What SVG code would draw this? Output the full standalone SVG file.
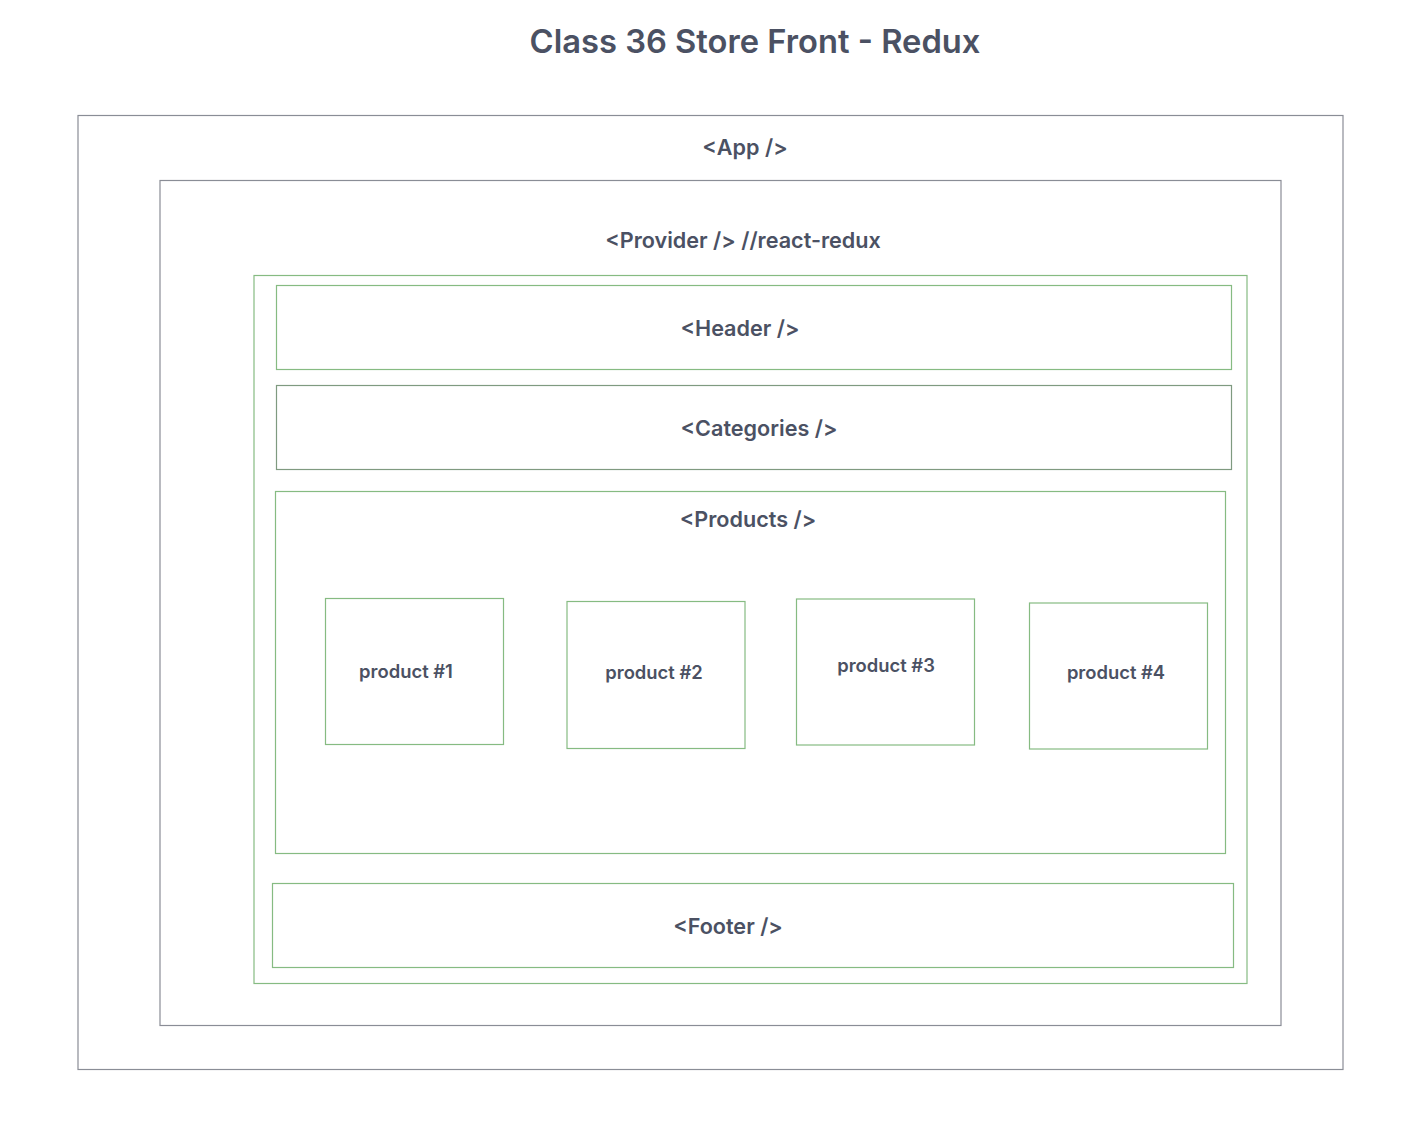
<svg xmlns="http://www.w3.org/2000/svg" width="1419" height="1131" viewBox="0 0 1419 1131">
<style>
.t{font-family:Inter,"Noto Sans","Liberation Sans",sans-serif;fill:#4b5163;text-anchor:middle;font-weight:600}
.title{font-size:32.7px}
.lbl{font-size:21.6px}
.prod{font-size:18.4px}
.gray{fill:none;stroke:#8a8d96;stroke-width:1.2}
.green{fill:none;stroke:#86bb82;stroke-width:1.2}
.dgreen{fill:none;stroke:#7f9a80;stroke-width:1.2}
</style>
<rect x="0" y="0" width="1419" height="1131" fill="#ffffff"/>
<text class="t title" x="755" y="53">Class 36 Store Front - Redux</text>
<g id="app">
<rect class="gray" x="78" y="115.5" width="1265" height="954"/>
<text class="t lbl" x="745" y="155">&lt;App /&gt;</text>
</g>
<g id="provider">
<rect class="gray" x="160" y="180.5" width="1121" height="845"/>
<text class="t lbl" x="743" y="248">&lt;Provider /&gt; //react-redux</text>
</g>
<g id="container">
<rect class="green" x="254" y="275.5" width="993" height="708"/>
</g>
<g id="header">
<rect class="green" x="276.5" y="285.5" width="955" height="84"/>
<text class="t lbl" x="740" y="336">&lt;Header /&gt;</text>
</g>
<g id="categories">
<rect class="dgreen" x="276.5" y="385.5" width="955" height="84"/>
<text class="t lbl" x="759" y="436">&lt;Categories /&gt;</text>
</g>
<g id="products">
<rect class="green" x="275.5" y="491.5" width="950" height="362"/>
<text class="t lbl" x="748" y="527">&lt;Products /&gt;</text>
</g>
<g id="product1">
<rect class="green" x="325.5" y="598.5" width="178" height="146"/>
<text class="t prod" x="406" y="678">product #1</text>
</g>
<g id="product2">
<rect class="green" x="567" y="601.5" width="178" height="147"/>
<text class="t prod" x="654" y="679">product #2</text>
</g>
<g id="product3">
<rect class="green" x="796.5" y="599" width="178" height="146"/>
<text class="t prod" x="886" y="672">product #3</text>
</g>
<g id="product4">
<rect class="green" x="1029.5" y="603" width="178" height="146"/>
<text class="t prod" x="1116" y="679">product #4</text>
</g>
<g id="footer">
<rect class="green" x="272.5" y="883.5" width="961" height="84"/>
<text class="t lbl" x="728" y="934">&lt;Footer /&gt;</text>
</g>
<g id="connectors"></g>
</svg>
